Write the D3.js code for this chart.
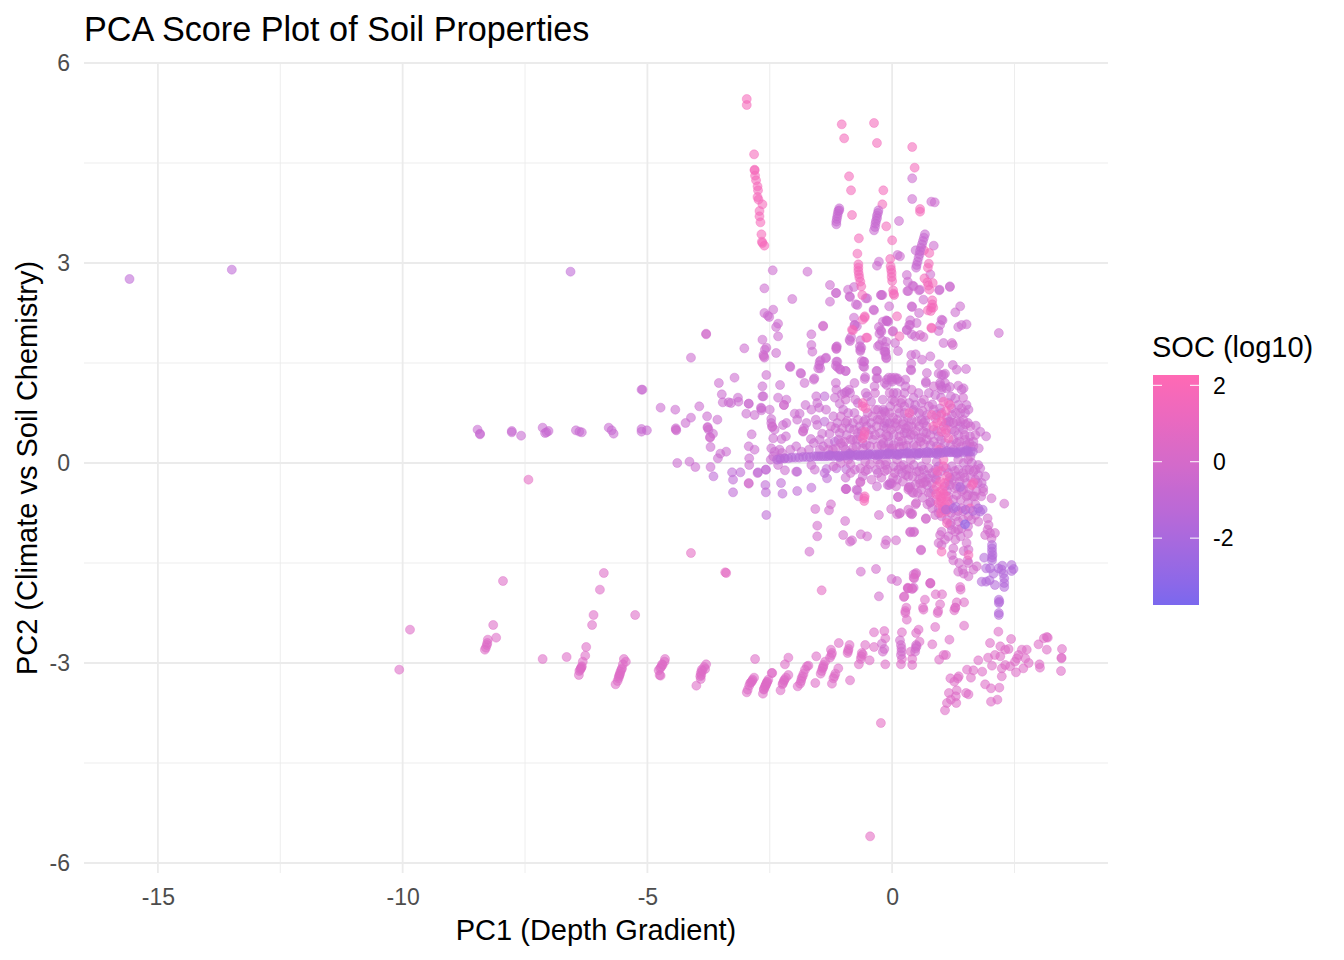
<!DOCTYPE html>
<html lang="en">
<head>
<meta charset="utf-8">
<title>PCA Score Plot of Soil Properties</title>
<script src="https://d3js.org/d3.v7.min.js"></script>
<style>
body { margin: 0; background: #fff; }
text { font-family: "Liberation Sans", Arial, sans-serif; }
</style>
</head>
<body>
<script>
// tick labels
var xMajor = [-15, -10, -5, 0];
var xMinor = [-12.5, -7.5, -2.5, 2.5];
var yMajor = [-6, -3, 0, 3, 6];
var yMinor = [-4.5, -1.5, 1.5, 4.5];
var legendTicks = [-2, 0, 2];

// points, [PC1, PC2], grouped by their SOC tone
var strayPurple = [[-15.58,2.76],[-13.49,2.9],[-6.57,2.87]];
var farLeftRow = [[-8.47,.5],[-8.42,.43],[-8.42,.44],[-7.77,.48],[-7.77,.46],[-7.58,.41],[-7.14,.53],[-7.06,.46],[-7.09,.45],[-7.02,.48],[-6.46,.49],[-6.39,.47],[-6.34,.46],[-5.79,.53],[-5.73,.49],[-5.69,.44],[-5.12,1.1],[-5.12,.51],[-5.12,.47],[-5.01,.49]];
var topArm = [[-2.97,5.46],[-2.97,5.37],[-2.82,4.63],[-2.81,4.4],[-2.81,4.39],[-2.8,4.31],[-2.78,4.24],[-2.75,4.15],[-2.74,4.09],[-2.75,3.99],[-2.73,3.95],[-2.65,3.88],[-2.71,3.78],[-2.71,3.7],[-2.69,3.61],[-2.67,3.43],[-2.65,3.3],[-2.66,3.32],[-2.61,3.26]];
var topPink = [[-1.03,5.08],[-.98,4.87],[-.37,5.1],[-.31,4.8],[.41,4.74],[.46,4.43],[.57,3.81],[.57,3.77],[-.88,4.3],[-.84,4.09],[-.18,4.09],[-.2,3.88],[-.82,3.72],[-.12,3.55],[-.68,3.37],[0,3.34],[-.71,3.14],[-.69,2.98],[-.69,2.93],[-.69,2.88],[-.68,2.83],[-.67,2.78],[-.65,2.72],[-.63,2.65],[-.61,2.52],[-.04,3.06],[-.03,2.95],[-.02,2.9],[-.01,2.85],[-.01,2.79],[0,2.73],[.02,2.59],[.04,2.52],[.03,2.54],[.76,3.15],[.65,3.19],[.75,2.99],[.73,2.93],[.66,2.77],[.72,2.71],[.74,2.66],[.76,2.6],[.83,2.7],[.82,2.44],[.82,2.38],[.8,2.33],[.79,2.28],[.73,2.29],[.84,2.33],[.81,2.02],[-.56,2.18],[-.6,2.15],[-.8,1.99],[-.51,1.88],[.1,2.2],[.15,1.9],[-.56,2.2],[-.82,2.0],[-.53,1.88],[.8,2.03]];
var purpleStripes = [[-1.08,3.82],[-1.1,3.78],[-1.11,3.74],[-1.12,3.7],[-1.13,3.66],[-1.14,3.62],[-1.14,3.58],[-1.08,3.79],[-.28,3.79],[-.29,3.75],[-.31,3.71],[-.31,3.67],[-.33,3.63],[-.34,3.59],[-.35,3.54],[-.37,3.49],[.67,3.43],[.65,3.38],[.63,3.33],[.61,3.28],[.59,3.23],[.57,3.18],[.56,3.13],[.54,3.08],[.52,3.02],[.5,2.97],[.49,2.93],[.48,3.19]];
var upperCloud = [[.41,4.27],[.41,3.96],[.8,3.92],[.87,3.91],[.14,3.63],[-2.44,2.89],[-1.73,2.87],[-2.61,2.62],[-2.04,2.46],[-1.27,2.67],[-1.14,2.55],[-1.27,2.42],[-.9,2.6],[-.78,2.64],[-.86,2.49],[-.51,2.47],[-.71,2.37],[-.22,2.52],[-.06,2.35],[-.37,2.29],[-.31,2.96],[-.27,3.02],[.11,3.12],[.16,3.1],[.3,2.82],[.32,2.72],[.78,2.83],[.44,2.65],[.33,2.58],[.55,2.59],[.96,2.59],[1.18,2.64],[.64,2.45],[.41,2.34],[.55,2.25],[1.39,2.35],[1.29,2.26],[.85,3.26],[2.18,1.95],[1.52,2.08],[1.42,2.07],[1.35,2.04],[1.03,2.14],[.98,2.07],[.95,1.98],[1.05,1.8],[.78,1.6],[.61,1.55],[.39,1.62],[.48,1.63],[.39,1.49],[.96,1.48],[1.24,1.47],[1.32,1.4],[1.51,1.41],[.71,1.35],[.95,1.34],[1.08,1.34],[1.01,1.32],[.39,1.39],[-4.11,1.58],[-3.02,1.72],[-2.65,1.85],[-2.57,1.73],[-2.6,1.7],[-2.63,1.62],[-2.61,1.58],[-2.37,1.65],[-2.61,2.25],[-2.54,2.21],[-2.51,2.19],[-2.43,2.3],[-2.33,2.09],[-2.37,2.04],[-2.33,1.9],[-1.65,1.93],[-1.65,1.77],[-1.63,1.67],[-1.14,1.74],[-1.14,1.71],[-1.13,1.75],[-.78,2.18],[-.72,2.05],[-.76,2.07],[-.84,1.89],[-.86,1.83],[-.65,1.84],[-.63,1.73],[-.65,1.68],[-.27,2.04],[-.23,1.99],[-.26,1.94],[-.2,1.84],[-.29,1.75],[-.12,2.14],[-.1,2.13],[-.14,1.74],[-.14,1.67],[-.12,1.58],[.06,1.8],[.12,1.68],[.3,1.99],[.37,2.14],[.37,2.07],[.4,1.93],[.47,1.9],[-2.08,1.44],[-1.86,1.34],[-1.59,1.27],[-1.46,1.54],[-1.35,1.58],[-1.49,1.47],[-1.47,1.42],[-1.12,1.52],[-1.12,1.44],[-1.06,1.4],[-.95,1.38],[-.62,1.53],[-.57,1.52],[-.57,1.44],[-.31,1.38],[-.55,1.29],[-.3,1.27],[-3.22,1.28],[-2.57,1.32],[-3.54,1.2],[-.07,1.28],[-.01,1.28],[.06,1.28],[.11,1.27],[.27,1.25],[-1.15,2.55],[-.87,2.5],[-.74,2.38],[-.54,2.47],[-.38,2.3],[-.23,2.52],[.31,2.58],[.42,2.66],[.57,2.6],[.97,2.6],[1.18,2.65],[-.2,2.52],[.4,2.35],[.35,2.07],[.5,2.1],[1.01,2.15],[.3,2.0],[-.11,2.13],[-.19,2.12],[-.08,2.12],[-.22,1.97],[-.12,1.82],[-.77,2.07],[-.87,1.85],[-.66,1.75],[-.65,1.7],[-.26,1.77],[-.16,1.67],[-.13,1.62],[.38,1.4],[.69,1.22],[1.05,1.32],[.98,1.17],[1.08,1.2],[-2.09,1.45],[-1.87,1.35],[-1.79,1.2],[-1.6,1.25],[-1.14,1.52],[-1.15,1.46],[-1.07,1.41],[-.95,1.38],[-1.48,1.52],[-1.36,1.57],[-1.51,1.42],[-.77,1.2],[-1.15,1.2],[-1.14,1.1],[-.97,1.05],[-.88,1.1],[-.56,1.26],[-.32,1.38],[-.32,1.27],[-.36,1.15],[-.54,1.05],[-.58,1.52],[-.59,1.45],[-.15,1.2],[-.14,1.67],[-.12,1.57],[-.11,1.25],[0,1.25],[.1,1.25],[1.01,1.14],[1.18,1.14],[1.35,1.16],[1.46,1.12]];
var upperDark = [[1.22,1.8],[1.24,1.77],[.57,1.92],[.64,1.89],[-3.8,1.93],[-3.8,1.94],[-1.41,2.05],[-1.41,2.06],[.02,1.98],[.01,1.97],[-1.14,1.72],[-2.62,1.6]];
var midLeft = [[-2.65,1.0],[-2.29,1.17],[-2.65,1.15],[-2.63,1.0],[-3.48,1.03],[-3.46,.91],[-3.34,.91],[-3.29,.9],[-3.15,.98],[-3.14,.92],[-2.93,.89],[-2.68,.83],[-2.67,.79],[-3.94,.85],[-4.43,.8],[-4.73,.83],[-5.1,1.1],[-4.11,.68],[-4.22,.6],[-4.42,.52],[-4.41,.49],[-3.78,.7],[-3.57,.65],[-3.77,.54],[-3.75,.5],[-3.66,.44],[-3.72,.39],[-3.71,.24],[-3.39,.17],[-3.51,.14],[-3.56,.07],[-4.39,0],[-4.14,.02],[-4.02,-.06],[-3.71,-.06],[-2.33,.98],[-2.16,.95],[-2.21,.87],[-2.93,.89],[-2.98,.74],[-2.81,.72],[-2.67,.82],[-2.5,.8],[-2.47,.66],[-2.47,.6],[-2.45,.54],[-2.4,.5],[-2.23,.57],[-2.16,.6],[-2.87,.43],[-2.26,.36],[-2.17,.4],[-2.43,.37],[-2.93,.25],[-2.81,.2],[-2.92,.07],[-2.92,-.03],[-2.75,-.15],[-2.58,-.1],[-2.19,-.11],[-1.96,-.13],[-2.08,.2],[-1.96,.25],[-1.85,.17],[-1.99,.74],[-1.89,.74],[-1.94,.65],[-1.77,.87],[-1.65,.8],[-1.55,1.0],[-1.53,.9],[-1.49,.83],[-1.17,.98],[-1.07,.89],[-1.03,1.03],[-.93,1.07],[-.86,1.05],[-1.56,.65],[-1.53,.57],[-1.75,.6],[-1.8,.52],[-1.82,.47],[-1.66,.36],[-1.12,.6],[-1.16,.52],[-1.28,.44],[-1.43,.44],[-1.48,.35],[-1.41,.25],[-.93,.42],[-.8,.35],[-1,.8],[-.9,.75],[-.77,.75],[-.8,.6],[-.51,1.0],[-.43,.6],[-.43,.5],[-.43,.92],[-.19,.95],[-.29,.8],[-.16,.77],[-.17,.55],[-.25,.45],[-.08,.4],[-1.07,.45],[-.87,.52],[-.66,.55],[-.39,.35],[-.22,.27],[-.53,.27],[-.73,.25],[-1,.25],[-1.21,.2],[-1.48,.2],[-.05,.22],[-2.47,.22],[-2.4,.17],[-2.3,.2],[-2.43,.1],[-2.3,.07],[-2.48,.05],[-2.19,.07],[-2.33,-.03],[-2.25,.15],[-1.7,.2],[-1.6,.3],[-1.3,.3],[-1.1,.35],[-.85,.15],[-.65,.4],[-.55,.65],[-.3,.65],[-.7,.9],[-1.2,.7],[-1.35,.8],[-.95,.6],[-.15,.6],[-.6,.3]];
var lavender = [[-3.65,-.2],[-3.27,-.14],[-3.1,-.14],[-3.25,-.25],[-3.25,-.44],[-2.74,-.14],[-2.58,-.1],[-2.59,-.33],[-2.58,-.44],[-2.57,-.78],[-2.27,-.3],[-2.24,-.46],[-1.94,-.13],[-1.94,-.42],[-1.65,-.37],[-1.38,1.0],[-1.38,.62],[-1.17,.32],[-1.34,-.09],[-1.38,-.15],[-1.33,-.23],[-1.14,-.08],[-.94,-.09]];
var darkLeft = [[-2.93,-.3],[-2.93,-.31],[-.65,-.28],[-.65,-.29],[.4,-.77],[.41,-.76],[-2.21,.87],[-1.82,.48],[-2.45,.55],[-3.77,.53],[-4.42,.5],[-3.72,.38]];
var spine = [[-2.35,.05],[-2.28,.06],[-2.2,.07],[-2.12,.07],[-2.05,.08],[-1.98,.08],[-1.9,.08],[-1.82,.09],[-1.75,.09],[-1.68,.09],[-1.6,.1],[-1.55,.1],[-1.5,.1],[-1.45,.1],[-1.4,.1],[-1.35,.1],[-1.3,.1],[-1.25,.11],[-1.2,.1],[-1.15,.11],[-1.1,.11],[-1.05,.11],[-1,.11],[-.95,.11],[-.9,.11],[-.85,.12],[-.8,.11],[-.75,.12],[-.7,.12],[-.65,.12],[-.6,.12],[-.55,.12],[-.5,.12],[-.45,.12],[-.4,.13],[-.35,.12],[-.3,.13],[-.25,.13],[-.2,.13],[-.15,.13],[-.1,.13],[-.05,.13],[0,.13],[.05,.14],[.1,.13],[.15,.14],[.2,.14],[.25,.14],[.3,.14],[.35,.14],[.4,.14],[.45,.15],[.5,.14],[.55,.15],[.6,.15],[.65,.15],[.7,.15],[.75,.15],[.8,.15],[.85,.15],[.9,.15],[.95,.16],[1,.15],[1.05,.16],[1.1,.16],[1.15,.16],[1.2,.16],[1.25,.16],[1.3,.16],[1.35,.16],[1.4,.17],[1.45,.16],[1.5,.17],[1.55,.17],[1.6,.17],[1.65,.17],[-1.28,.12],[-1.08,.09],[-.88,.14],[-.68,.1],[-.48,.14],[-.28,.11],[-.08,.15],[.12,.12],[.32,.16],[.52,.12],[.72,.17],[.92,.13],[1.12,.18],[1.32,.14],[1.52,.19]];
var denseRight = [[-.11,1.17],[0,1.22],[.16,1.22],[.27,1.15],[.03,1.05],[0,.95],[.44,.98],[.54,1.05],[.47,.87],[.44,.8],[.18,.9],[-.04,.85],[-.14,.75],[-.18,.8],[.69,1.2],[.98,1.2],[.88,1.02],[1.01,1.1],[1.11,1.12],[1.42,1.1],[1.29,.97],[.82,.88],[.98,.82],[1.01,.75],[1.35,.87],[1.52,.87],[1.56,.8],[1.49,.75],[1.39,.75],[1.39,.62],[1.39,.55],[1.22,.72],[1.18,.62],[.88,.67],[.71,.72],[.64,.6],[.6,.65],[.23,.62],[.06,.6],[-.11,.62],[.33,.55],[.16,.5],[-.11,.52],[.03,.42],[.44,.42],[.64,.47],[1.22,.5],[1.35,.42],[.95,.4],[.71,.35],[.54,.37],[.33,.35],[.13,.32],[-.07,.3],[1.71,.56],[1.8,.47],[1.92,.4],[1.59,.4],[1.66,.32],[1.49,.35],[.78,.27],[1.08,.3],[1.32,.3],[1.52,.27],[1.66,.25],[.44,.27],[.23,.25],[.03,.27],[-.18,.3],[.91,.25],[1.77,.22],[1.76,-.03],[1.8,-.08],[1.76,-.18],[1.9,-.2],[1.83,-.3],[1.86,-.38],[1.63,0],[1.46,0],[1.52,-.1],[1.66,-.13],[1.35,-.1],[1.22,-.05],[.91,.02],[.88,-.1],[.6,-.05],[.44,-.03],[.64,-.1],[.71,-.18],[.5,-.13],[.23,-.03],[.13,-.1],[.03,-.05],[-.14,-.03],[.2,-.15],[.33,-.2],[-.04,-.3],[.1,-.25],[.37,-.35],[.74,-.23],[.88,-.23],[.71,-.33],[1.22,-.25],[1.39,-.2],[1.52,-.3],[1.08,-.35],[1.32,-.35],[-.6,-.2],[-.5,-.1],[-.32,-.1],[-.29,-.15],[-1.65,-.03],[-1.58,-.1],[-.95,-.22],[-.76,-.1],[-.95,-.39],[-.73,-.4],[-.09,-.33],[-.01,-.31],[.12,-.51],[-.31,-.35],[-.06,-.33],[-.94,-.39],[-.71,-.41],[-.69,-.5],[.34,-.37],[.41,-.44],[.78,-.59],[.25,.45],[.55,.15],[.85,.5],[1.1,.6],[1.45,.5],[1.55,.6],[.35,.9],[.6,.9],[.15,.75],[.3,.45],[1.2,1.0],[1.0,.98],[.75,1.05],[.55,.75],[.1,1.05],[.25,1.05],[-.05,.6],[1.6,.1],[1.25,.2],[.95,-.05],[.55,-.25],[.3,-.1],[.85,-.4],[1.15,-.15],[1.45,-.4],[1.65,-.5],[1.75,-.3]];
var hotCore = [[.35,.75],[1.05,.92],[1.18,.87],[1.01,.62],[.81,.72],[.84,.55],[1.01,.47],[1.15,.37],[1.05,.05],[1.05,-.05],[.91,-.35],[1.12,-.2],[1.66,-.3],[.98,-.43],[1.01,-.53],[1.05,-.46],[.95,-.6],[1.08,-.63],[1.63,-.33],[1.59,-.68],[1.12,-.9],[1.01,-1.33],[1.0,-.58],[1.03,-.66],[.98,-.5],[1.1,-.5],[-.6,.9],[-.54,.82],[-.56,.47],[-.6,.37],[-.6,.85],[-.57,.42],[1.56,-1.38],[-.56,-.5],[-.57,-.53],[-.57,-.57],[1.03,-.4],[.98,-.28],[1.07,-.3],[.93,-.12],[1.13,-.58],[.9,-.47],[1.0,.72],[1.1,.78],[.92,.6],[1.1,.5],[.95,.2],[1.0,-.75],[1.1,-.72]];
var belowSpine = [[.57,-.31],[.64,-.3],[.33,-.4],[.44,-.45],[.81,-.31],[.79,-.45],[1.18,-.33],[1.32,-.48],[1.52,-.5],[1.69,-.5],[1.86,-.43],[2.03,-.53],[2.29,-.61],[.78,-.59],[.49,-.6],[.16,-.75],[.37,-.75],[.69,-.83],[.88,-.78],[.95,-.75],[1.01,-.8],[1.12,-.85],[1.15,-.7],[1.42,-.68],[1.56,-.8],[1.76,-.88],[1.01,-1.03],[.98,-1.08],[1.55,-1.06],[1.22,-1],[1.29,-1.03],[1.18,-.93],[1.35,-.88],[1.35,-1],[1.29,-1.15],[1.25,-1.28],[1.22,-1.38],[1.25,-1.46],[.95,-1.2],[1.01,-1.23],[1.08,-1.15],[.59,-1.3],[.37,-1.03],[.45,-1.03],[1.52,-1.2],[1.56,-1.3],[1.46,-1.32],[1.54,-1.46],[1.56,-1.5],[1.37,-1.5],[1.46,-1.66],[1.44,-1.6],[1.56,-1.7],[1.73,-1.55],[1.66,-1.6],[1.35,-1.63],[.44,-1.67],[.49,-1.65],[.78,-1.8],[.33,-1.88],[.44,-1.87],[1.95,-.83],[1.97,-.93],[1.95,-1],[2,-1.05],[2.1,-1.05],[2.03,-1.13],[1.9,-1.08],[-1.57,-.69],[-1.25,-.62],[-1.29,-.71],[-.96,-.87],[-1.53,-.94],[-1.53,-1.1],[-1.69,-1.33],[-1,-1.08],[-.64,-1.07],[-.82,-1.16],[-.86,-1.18],[-.51,-1.1],[-.12,-1.16],[-.14,-1.22],[.08,-1.16],[.59,-1.31],[.37,-1.04],[.44,-1.04],[-.27,-.78],[-.02,-.69],[.1,-.77],[.15,-.76],[.33,-.7],[.48,-.62],[.69,-.84],[.12,-.51],[-.94,-.39],[.34,-.37],[-.64,-1.63],[-.33,-1.59],[-.01,-1.74],[.1,-1.77],[.45,-1.73],[.78,-1.81],[.32,-1.88],[.41,-1.89],[-.27,-2],[.24,-2.01]];
var purpleStrand = [[1.25,-.68],[1.39,-.36],[1.76,-.68],[1.8,-.73],[2.04,-1.23],[2.04,-1.28],[2.04,-1.33],[2.04,-1.42],[2.04,-1.46],[2.05,-1.38],[1.88,-1.42],[2,-1.58],[1.92,-1.58],[1.83,-1.78],[1.92,-1.78],[1.99,-1.76],[2.1,-1.83],[2.17,-1.58],[2.25,-1.54],[2.44,-1.53],[2.48,-1.59],[2.44,-1.62],[2.27,-1.66],[2.29,-1.73],[2.29,-1.8],[2.29,-1.86],[2.24,-1.6],[2.07,-1.66],[2.18,-2.05],[2.18,-2.1],[2.19,-2.08],[2.18,-2.25],[2.18,-2.28],[1.1,-.7],[1.5,-.7],[1.65,-.72],[1.3,-.66],[1.85,-.7]];
var blueDot = [[1.49,-.92]];
var lowerStraggle = [[-7.43,-.25],[-4.11,-1.35],[-3.39,-1.65],[-3.41,-1.64],[-1.44,-1.91],[-.45,-5.6],[-.23,-3.9]];
var bottomBand = [[-10.07,-3.1],[-9.85,-2.5],[-7.95,-1.77],[-8.15,-2.43],[-8.09,-2.62],[-8.26,-2.65],[-8.27,-2.7],[-8.28,-2.73],[-8.3,-2.77],[-8.32,-2.8],[-7.14,-2.94],[-6.65,-2.91],[-5.89,-1.65],[-5.97,-1.9],[-6.1,-2.28],[-6.13,-2.43],[-5.25,-2.28],[-6.25,-2.76],[-6.27,-2.89],[-6.32,-2.98],[-6.34,-3.05],[-6.36,-3.08],[-6.39,-3.12],[-6.4,-3.18],[-5.48,-2.94],[-5.44,-2.98],[-5.5,-3.02],[-5.52,-3.08],[-5.55,-3.13],[-5.57,-3.18],[-5.59,-3.23],[-5.61,-3.27],[-5.65,-3.32],[-4.64,-2.94],[-4.65,-2.98],[-4.69,-3.03],[-4.72,-3.06],[-4.77,-3.11],[-4.75,-3.18],[-4.73,-3.19],[-3.8,-3.02],[-3.84,-3.06],[-3.82,-3.09],[-3.89,-3.1],[-3.91,-3.15],[-3.92,-3.2],[-3.91,-3.24],[-4,-3.34],[-2.8,-2.94],[-2.45,-3.15],[-2.82,-3.22],[-2.85,-3.25],[-2.88,-3.29],[-2.92,-3.34],[-2.95,-3.4],[-2.97,-3.44],[-2.53,-3.25],[-2.56,-3.29],[-2.59,-3.34],[-2.62,-3.39],[-2.64,-3.46],[-2.58,-3.33],[-2.55,-3.28],[-2.62,-3.4],[-2.46,-3.15],[-2.12,-3.18],[-2.17,-3.22],[-2.21,-3.27],[-2.24,-3.32],[-2.28,-3.41],[-2.12,-2.92],[-2.19,-3.02],[-1.74,-3.05],[-1.81,-3.16],[-1.85,-3.23],[-1.88,-3.31],[-1.93,-3.35],[-1.71,-3.04],[-1.78,-3.1],[-1.55,-2.9],[-1.37,-2.98],[-1.4,-3.03],[-1.42,-3.08],[-1.46,-3.16],[-1.57,-3.3],[-1.1,-3.08],[-1.16,-3.16],[-1.2,-3.23],[-1.23,-3.31],[-.86,-3.26],[-1.25,-2.8],[-1.23,-2.85],[-1.27,-2.92],[-1.09,-2.7],[-.87,-2.73],[-.89,-2.79],[-.91,-2.85],[-.55,-2.73],[-.62,-2.85],[-.64,-2.94],[-.68,-3.02],[-.46,-2.96],[-.37,-2.76],[-.37,-2.54],[.25,-2],[.29,-2.17],[.27,-2.25],[.3,-2.35],[.32,-1.87],[.41,-1.88],[.48,-1.67],[.44,-1.72],[.78,-1.8],[.89,-1.97],[1.02,-1.97],[.67,-2.05],[.63,-2.17],[.64,-2.2],[.98,-2.12],[.94,-2.22],[.93,-2.25],[1.32,-2.09],[1.47,-2.09],[1.29,-2.17],[1.27,-2.21],[1.39,-1.86],[1.4,-1.9],[.88,-2.46],[1.47,-2.44],[2.17,-2.53],[2,-2.7],[2.43,-2.64],[2.99,-2.72],[3.1,-2.63],[3.16,-2.61],[3.18,-2.62],[3.16,-2.8],[3.47,-2.79],[3.46,-2.92],[3.46,-2.93],[3.45,-3.12],[3.01,-3.02],[3.02,-3.07],[2.21,-2.75],[2.31,-2.8],[2.38,-2.79],[2.65,-2.8],[2.75,-2.8],[2.58,-2.88],[2.55,-2.93],[2.51,-2.98],[2.72,-2.93],[2.79,-3],[2.68,-3.08],[2.53,-3.14],[2.41,-3.05],[2.31,-3.03],[2.24,-3.08],[2.21,-2.9],[2.1,-2.88],[1.96,-2.92],[2.04,-3.04],[1.76,-2.96],[1.53,-3.1],[1.66,-3.11],[1.61,-3.22],[1.84,-3.13],[2.24,-3.2],[1.9,-3.32],[2.02,-3.38],[2.19,-3.37],[2.02,-3.58],[2.15,-3.55],[1.36,-3.2],[1.34,-3.23],[1.19,-3.23],[1.27,-3.28],[1.32,-3.41],[1.51,-3.45],[1.56,-3.47],[1.16,-3.45],[1.3,-3.5],[1.2,-3.55],[1.12,-3.6],[1.31,-3.6],[1.08,-3.71],[1.17,-2.65],[.82,-2.72],[1.1,-2.88],[1.05,-2.88],[.96,-2.95],[.54,-2.5],[.49,-2.55],[.56,-2.68],[.41,-2.94],[.41,-3.03],[.38,-2.83],[.2,-2.54],[-.16,-2.52],[-.14,-2.63],[-.14,-3.02],[.2,-2.94],[.18,-3.02],[.27,-2.22],[1.29,-2.17],[-6.35,-3.07],[-6.37,-3.1],[-5.53,-3.1],[-5.56,-3.16],[-5.58,-3.2],[-4.7,-3.02],[-4.74,-3.08],[-3.88,-3.12],[-3.9,-3.18],[-2.9,-3.3],[-2.86,-3.27],[-2.57,-3.31],[-2.6,-3.36],[-2.2,-3.25],[-2.23,-3.3],[-1.83,-3.2],[-1.86,-3.27],[-1.41,-3.06],[-1.44,-3.12],[-.63,-2.9],[-.6,-2.87],[-.9,-2.82],[-1.24,-2.88],[-1.18,-3.2]];
var bottomBlobs = [[.49,-2.73],[.48,-2.78],[.47,-2.83],[.5,-2.75],[.16,-2.66],[.18,-2.73],[.19,-2.78],[.19,-2.83],[.18,-2.88],[-.21,-2.71],[-.16,-2.79],[-.19,-2.83]];
// second pass over the crowded middle of the cloud
var cloudFill = [[-.95,.95],[-.75,.95],[-.35,1.05],[-.05,1.05],[.2,.95],[.4,1.1],[.65,.95],[.85,1.15],[1.15,.9],[1.3,.75],[-1.25,.55],[-1.05,.7],[-.85,.35],[-.7,.65],[-.5,.75],[-.35,.8],[-.25,.65],[-.05,.75],[.1,.65],[.25,.75],[.4,.65],[.55,.55],[.7,.55],[.85,.8],[1,.35],[1.1,.45],[1.25,.35],[1.45,.65],[1.6,.55],[1.7,.42],[-1.3,.2],[-1.15,.22],[-.95,.2],[-.8,.22],[-.6,.22],[-.45,.25],[-.3,.25],[-.15,.22],[0,.22],[.15,.24],[.3,.26],[.5,.25],[.65,.28],[.85,.32],[1,.22],[1.2,.27],[1.4,.24],[1.6,.24],[-1.2,-.05],[-1.05,.0],[-.85,-.02],[-.65,-.08],[-.45,-.02],[-.25,-.02],[-.1,-.1],[.05,-.15],[.18,-.05],[.35,-.08],[.55,-.12],[.75,-.08],[1,-.12],[1.15,-.28],[1.3,-.2],[1.45,-.15],[1.6,-.22],[1.7,-.1],[.75,-.45],[.9,-.55],[1.15,-.5],[1.25,-.55],[1.4,-.55],[1.55,-.6],[1.7,-.62],[1.2,-.75],[1.3,-.8],[1.45,-.85],[1.55,-.95],[1.15,-1.1],[1.4,-1.1],[1.45,-.72],[1.05,-.7],[.9,-.25],[.6,-.4],[-.3,.05],[-.12,.02],[.1,.05],[.38,.05],[.7,.05],[1.35,.05],[1.55,.05],[-.9,.05],[-.55,.02],[1.25,.6],[1.05,.55],[.7,.45],[.4,.55],[.15,.4],[-.35,.42],[-.7,.45],
	[-1.02,.52],[-.92,.63],[-.78,.5],[-.62,.48],[-.48,.42],[-.32,.55],[-.2,.36],[-.02,.5],[.08,.55],[.2,.33],[.28,.52],[.38,.42],[.48,.48],[.58,.32],[.68,.64],[.78,.42],[.92,.48],[1.15,.62],[1.28,.48],[1.38,.32],[1.48,.42],[1.58,.3],[-.98,.32],[-.72,.35],[-.52,.55],[-.4,.7],[-.12,.42],[.02,.68],[.12,.82],[.22,.58],[.32,.68],[.42,.78],[.5,.62],[.62,.78],[.75,.85],[.9,.72],[1.22,.82],[1.32,.62],[1.42,.82],[1.5,.58],[-1.05,.3],[-.58,.62],[-.22,.72],[.05,.92],[.25,.85],[.6,.38],[1.12,.68],[1.45,.98],
	[-.85,-.15],[-.55,-.12],[-.42,-.25],[-.22,-.22],[-.15,-.12],[.02,-.22],[.08,-.35],[.22,-.28],[.28,-.18],[.42,-.2],[.48,-.32],[.62,-.22],[.68,-.28],[.82,-.15],[.92,-.18],[1.1,-.08],[1.18,-.22],[1.28,-.12],[1.38,-.28],[1.48,-.22],[1.58,-.1],[1.7,-.25],[1.58,-.38],[1.42,-.42],[1.28,-.38],[1.12,-.42],[.95,-.68],[.82,-.68],[1.18,-.62],[1.35,-.72],[1.55,-.48],[1.72,-.42],[1.82,-.5],[.72,-.62],[.62,-.52],[.52,-.45],[1.2,-.9],[1.42,-.98],[1.62,-.85],[1.7,-.78]];

// colour scale
var socDomain = [-3.75, 2.27];
var socColor = d3.scaleLinear().domain(socDomain).range(["#7B68EE", "#FF69B4"]).interpolate(d3.interpolateLab);

var layers = [
	[upperCloud, -.45], [midLeft, -.55], [lavender, -1.1], [denseRight, -.55], [cloudFill, -.3], [belowSpine, -.2],
	[strayPurple, -1.1], [farLeftRow, -.7], [darkLeft, -.2], [upperDark, -.2], [topArm, 1.7], [topPink, 1.6],
	[purpleStripes, -.7], [hotCore, 1.7], [spine, -1.4], [purpleStrand, -1.6], [blueDot, -3.4],
	[lowerStraggle, .8], [bottomBand, .45], [bottomBlobs, -.2]
];

var width = 1344, height = 960;
var margin = {top: 63, right: 236, bottom: 87, left: 84};

var svg = d3.select("body").append("svg").attr("width", width).attr("height", height);

var x = d3.scaleLinear().domain([-16.51, 4.41]).range([margin.left, width - margin.right]);
var y = d3.scaleLinear().domain([-6.15, 6]).range([height - margin.bottom, margin.top]);

// grid
var grid = svg.append("g").attr("stroke", "#EBEBEB").attr("fill", "none");
grid.selectAll(".vminor").data(xMinor).enter().append("line")
	.attr("x1", function(d) { return x(d); }).attr("x2", function(d) { return x(d); })
	.attr("y1", y.range()[1]).attr("y2", y.range()[0]).attr("stroke-width", 0.9);
grid.selectAll(".hminor").data(yMinor).enter().append("line")
	.attr("y1", function(d) { return y(d); }).attr("y2", function(d) { return y(d); })
	.attr("x1", x.range()[0]).attr("x2", x.range()[1]).attr("stroke-width", 0.9);
grid.selectAll(".vmajor").data(xMajor).enter().append("line")
	.attr("x1", function(d) { return x(d); }).attr("x2", function(d) { return x(d); })
	.attr("y1", y.range()[1]).attr("y2", y.range()[0]).attr("stroke-width", 1.8);
grid.selectAll(".hmajor").data(yMajor).enter().append("line")
	.attr("y1", function(d) { return y(d); }).attr("y2", function(d) { return y(d); })
	.attr("x1", x.range()[0]).attr("x2", x.range()[1]).attr("stroke-width", 1.8);

// points
layers.forEach(function(layer) {
	var col = socColor(layer[1]);
	svg.append("g").selectAll("circle").data(layer[0]).enter().append("circle")
		.attr("cx", function(d) { return x(d[0]); })
		.attr("cy", function(d) { return y(d[1]); })
		.attr("r", 4.5)
		.attr("fill", col)
		.attr("fill-opacity", 0.58)
		.attr("stroke", col)
		.attr("stroke-opacity", 0.45)
		.attr("stroke-width", 0.9);
});

// axes
var xAxis = d3.axisBottom(x).tickValues(xMajor).tickSize(0).tickPadding(16).tickFormat(String);
var yAxis = d3.axisLeft(y).tickValues(yMajor).tickSize(0).tickPadding(14).tickFormat(String);
var xg = svg.append("g").attr("transform", "translate(0," + (height - margin.bottom) + ")").call(xAxis);
var yg = svg.append("g").attr("transform", "translate(" + margin.left + ",0)").call(yAxis);
[xg, yg].forEach(function(g) {
	g.select(".domain").remove();
	g.selectAll("text").attr("fill", "#4D4D4D").style("font-size", "23px");
});

svg.append("text").attr("x", 84).attr("y", 41).attr("font-size", 34.2).attr("fill", "#000").text("PCA Score Plot of Soil Properties");
svg.append("text").attr("x", 596).attr("y", 940).attr("text-anchor", "middle").attr("font-size", 29).attr("fill", "#000").text("PC1 (Depth Gradient)");
svg.append("text").attr("transform", "translate(37,468) rotate(-90)").attr("text-anchor", "middle").attr("font-size", 29).attr("fill", "#000").text("PC2 (Climate vs Soil Chemistry)");

// legend
var barX = 1153, barW = 46;
var legendY = d3.scaleLinear().domain(socDomain).range([605, 375]);
var defs = svg.append("defs");
var grad = defs.append("linearGradient").attr("id", "socBar").attr("x1", 0).attr("x2", 0).attr("y1", 1).attr("y2", 0);
d3.range(0, 1.01, 0.1).forEach(function(t) {
	grad.append("stop").attr("offset", t).attr("stop-color", socColor(socDomain[0] + t * (socDomain[1] - socDomain[0])));
});
svg.append("text").attr("x", 1152).attr("y", 357).attr("font-size", 29).attr("fill", "#000").text("SOC (log10)");
svg.append("rect").attr("x", barX).attr("y", 375).attr("width", barW).attr("height", 230).attr("fill", "url(#socBar)");
var lt = svg.append("g").selectAll("g").data(legendTicks).enter().append("g")
	.attr("transform", function(d) { return "translate(0," + legendY(d) + ")"; });
lt.append("line").attr("x1", barX).attr("x2", barX + 9).attr("stroke", "#fff").attr("stroke-width", 1);
lt.append("line").attr("x1", barX + barW - 9).attr("x2", barX + barW).attr("stroke", "#fff").attr("stroke-width", 1);
lt.append("text").attr("x", 1213).attr("dy", "0.36em").attr("font-size", 23).attr("fill", "#000").text(String);
</script>
</body>
</html>
